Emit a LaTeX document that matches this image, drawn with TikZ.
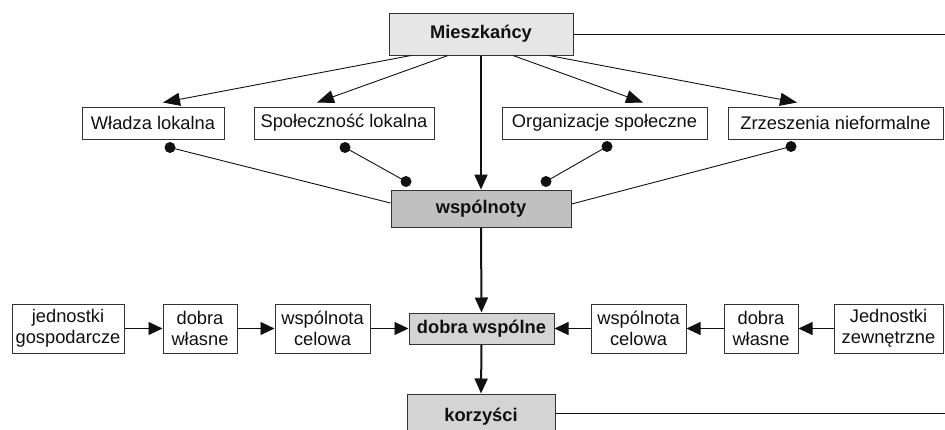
\documentclass[tikz,border=0pt]{standalone}
\usepackage{fontspec}
\setmainfont{Liberation Sans}
\usetikzlibrary{arrows.meta,calc}
\definecolor{ink}{HTML}{111111}
\definecolor{edge}{HTML}{333333}
\definecolor{fillA}{HTML}{E6E6E6}
\definecolor{fillB}{HTML}{C0C0C0}
\definecolor{fillC}{HTML}{D4D4D4}
\begin{document}
\begin{tikzpicture}[x=1pt,y=-1pt,
  box/.style={draw=edge,line width=1pt,fill=white,inner sep=0pt,align=center,
    text=ink,font=\fontsize{18.3}{20.5}\selectfont},
  bbox/.style={box,font=\fontsize{18.3}{20.5}\selectfont\bfseries},
  thin/.style={draw=ink,line width=0.9pt},
  thinarr/.style={thin,-{Triangle[length=17pt,width=13pt]}},
  thickarr/.style={draw=ink,line width=2pt,-{Triangle[length=15pt,width=13pt]}},
  harr/.style={draw=ink,line width=0.9pt,-{Triangle[length=14pt,width=13pt]}},
  dot/.style={circle,fill=ink,inner sep=0pt,minimum size=11pt}]
\useasboundingbox (0,0) rectangle (945,429);
\clip (0,0) rectangle (945,429);
% top row
\node[bbox,fill=fillA,minimum width=184pt,minimum height=42pt] (mies) at (481,34) {Mieszkańcy};
\node[box,minimum width=142pt,minimum height=32pt] (wl) at (153,123) {Władza lokalna};
\node[box,minimum width=180pt,minimum height=32pt] (sl) at (344,123) {Społeczność lokalna};
\node[box,minimum width=205pt,minimum height=32pt] (os) at (604.5,123) {Organizacje społeczne};
\node[box,minimum width=215pt,minimum height=32pt] (zn) at (835.5,123) {Zrzeszenia nieformalne};
\node[bbox,fill=fillB,minimum width=180pt,minimum height=37pt] (wsp) at (481,208.5) {wspólnoty};
% lower row
\node[bbox,fill=fillC,minimum width=145pt,minimum height=31pt] (dw) at (481.5,328.5) {dobra wspólne};
\node[bbox,fill=fillC,minimum width=148pt,minimum height=46pt] (kor) at (481,417) {korzyści};
\node[box,minimum width=112pt,minimum height=49pt] (jg) at (68,328.5) {jednostki\\gospodarcze};
\node[box,minimum width=74pt,minimum height=49pt] (dwl) at (200,328.5) {dobra\\własne};
\node[box,minimum width=95pt,minimum height=49pt] (wcl) at (322.5,328.5) {wspólnota\\celowa};
\node[box,minimum width=95pt,minimum height=49pt] (wcr) at (638.5,328.5) {wspólnota\\celowa};
\node[box,minimum width=74pt,minimum height=49pt] (dwr) at (761,328.5) {dobra\\własne};
\node[box,minimum width=109pt,minimum height=49pt] (jz) at (888.5,328.5) {Jednostki\\zewnętrzne};
% free ends
\coordinate (mr) at (945,34);
\coordinate (kr) at (945,413);
% dots
\node[dot] (d1) at ([xshift=17pt,yshift=-8pt]wl.south) {};
\node[dot] (d2) at ([xshift=1pt,yshift=-8pt]sl.south) {};
\node[dot] (d3) at ([xshift=2.5pt,yshift=-7pt]os.south) {};
\node[dot] (d4) at ([xshift=-44.5pt,yshift=-7pt]zn.south) {};
\node[dot] (d5) at ([xshift=-75pt,yshift=8pt]wsp.north) {};
\node[dot] (d6) at ([xshift=65pt,yshift=8pt]wsp.north) {};
% connectors
\draw[thin] (mies.east) -- (mr);
\draw[thin] (kor.east |- kr) -- (kr);
\draw[thinarr] ([xshift=-70pt]mies.south) -- ([xshift=10pt,yshift=4pt]wl.north);
\draw[thinarr] ([xshift=-33pt]mies.south) -- ([xshift=-27pt,yshift=4pt]sl.north);
\draw[thinarr] ([xshift=32pt]mies.south) -- ([xshift=38.5pt,yshift=4pt]os.north);
\draw[thinarr] ([xshift=68pt]mies.south) -- ([xshift=-38.5pt,yshift=4pt]zn.north);
\draw[thickarr] (mies.south) -- (wsp.north);
\draw[thin] (d1.center) -- ([yshift=5.5pt]wsp.west);
\draw[thin] (d4.center) -- ([yshift=4.5pt]wsp.east);
\draw[thin] (d2.center) -- (d5.center);
\draw[thin] (d3.center) -- (d6.center);
\draw[thickarr] (wsp.south) -- (dw.north);
\draw[thickarr] (dw.south) -- (kor.north);
\draw[harr] (jg.east) -- (dwl.west);
\draw[harr] (dwl.east) -- (wcl.west);
\draw[harr] (wcl.east) -- (dw.west);
\draw[harr] (jz.west) -- (dwr.east);
\draw[harr] (dwr.west) -- (wcr.east);
\draw[harr] (wcr.west) -- (dw.east);
\end{tikzpicture}
\end{document}
